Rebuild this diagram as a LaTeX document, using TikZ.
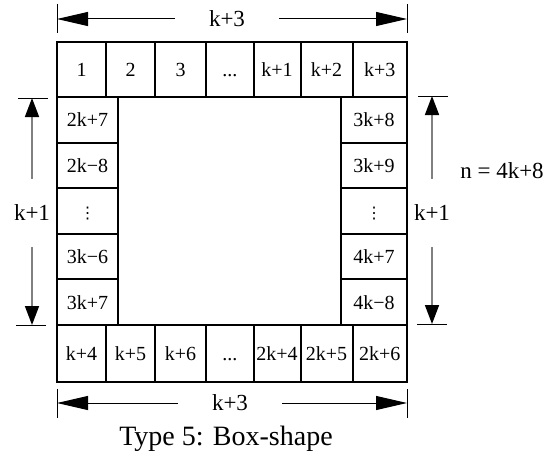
\documentclass[tikz,border=0pt]{standalone}
\usepackage{fontspec}
\setmainfont{Liberation Serif}
\newfontfamily\dotsfont{DejaVu Sans}
\usepackage{tikz}
\usetikzlibrary{arrows.meta}
\usetikzlibrary{positioning}

\newcommand{\coldots}{{\dotsfont\fontsize{8}{8}\selectfont ⋮}}

\tikzset{
    cell/.style={draw, line width=1pt, outer sep=0pt, inner sep=0pt,
        text height=7pt, text depth=0pt,
        minimum height=27.5pt, font=\fontsize{10}{11}\selectfont},
    sidecell/.style={cell, minimum height=22.8pt},
    dimlabel/.style={inner sep=0pt, font=\fontsize{11.5}{13}\selectfont},
    harrow/.style={line width=0.5pt, shorten <=17pt,
        -{Triangle[length=15.5pt,width=7pt]}},
    varrow/.style={gray, line width=0.8pt, shorten <=13pt,
        -{Triangle[length=9.5pt,width=7pt,color=black,fill=black]}},
    tick/.style={line width=0.5pt}
}

\begin{document}
\begin{tikzpicture}[x=0.5pt,y=-0.5pt]
        \useasboundingbox (0,0) rectangle (555,460);

        % top row
        \node[cell, anchor=north west, minimum width=24.5pt] (t1) at (57,42) {1};
        \node[cell, right=0pt of t1, minimum width=24.5pt] (t2) {2};
        \node[cell, right=0pt of t2, minimum width=25.5pt] (t3) {3};
        \node[cell, right=0pt of t3, minimum width=23.75pt] (t4) {...};
        \node[cell, right=0pt of t4, minimum width=23.5pt] (t5) {k+1};
        \node[cell, right=0pt of t5, minimum width=26pt] (t6) {k+2};
        \node[cell, right=0pt of t6, minimum width=27.25pt] (t7) {k+3};

        % left column
        \node[sidecell, anchor=north west, minimum width=30.5pt] (l1) at (t1.south west) {2k+7};
        \node[sidecell, below=0pt of l1, minimum width=30.5pt] (l2) {2k−8};
        \node[sidecell, below=0pt of l2, minimum width=30.5pt] (l3) {\coldots};
        \node[sidecell, below=0pt of l3, minimum width=30.5pt] (l4) {3k−6};
        \node[sidecell, below=0pt of l4, minimum width=30.5pt] (l5) {3k+7};

        % right column
        \node[sidecell, anchor=north east, minimum width=33pt] (r1) at (t7.south east) {3k+8};
        \node[sidecell, below=0pt of r1, minimum width=33pt] (r2) {3k+9};
        \node[sidecell, below=0pt of r2, minimum width=33pt] (r3) {\coldots};
        \node[sidecell, below=0pt of r3, minimum width=33pt] (r4) {4k+7};
        \node[sidecell, below=0pt of r4, minimum width=33pt] (r5) {4k−8};

        % bottom row
        \node[cell, anchor=north west, minimum width=24.5pt, minimum height=28.5pt] (b1) at (l5.south west) {k+4};
        \node[cell, right=0pt of b1, minimum width=24.5pt, minimum height=28.5pt] (b2) {k+5};
        \node[cell, right=0pt of b2, minimum width=25.5pt, minimum height=28.5pt] (b3) {k+6};
        \node[cell, right=0pt of b3, minimum width=23.75pt, minimum height=28.5pt] (b4) {...};
        \node[cell, right=0pt of b4, minimum width=23.5pt, minimum height=28.5pt] (b5) {2k+4};
        \node[cell, right=0pt of b5, minimum width=26pt, minimum height=28.5pt] (b6) {2k+5};
        \node[cell, right=0pt of b6, minimum width=27.25pt, minimum height=28.5pt] (b7) {2k+6};

        % dimension marks
        \node[dimlabel] (topk) at (227,19) {k+3};
        \coordinate (topl) at (57,19);
        \coordinate (topr) at (407,19);
        \draw[harrow] (topk) -- (topl);
        \draw[harrow] (topk) -- (topr);
        \draw[tick] (57,4) -- (57,33);
        \draw[tick] (407,4) -- (407,33);

        \node[dimlabel] (botk) at (230,403) {k+3};
        \coordinate (botl) at (57,403);
        \coordinate (botr) at (407,403);
        \draw[harrow] (botk) -- (botl);
        \draw[harrow] (botk) -- (botr);
        \draw[tick] (57,389) -- (57,418);
        \draw[tick] (407,389) -- (407,418);

        \node[dimlabel] (leftk) at (32,213) {k+1};
        \coordinate (leftt) at (32,98);
        \coordinate (leftb) at (32,325);
        \draw[varrow] (leftk) -- (leftt);
        \draw[varrow] (leftk) -- (leftb);
        \draw[tick] (18,98) -- (48,98);
        \draw[tick] (16,325) -- (46,325);

        \node[dimlabel] (rightk) at (432,213) {k+1};
        \coordinate (rightt) at (432,96);
        \coordinate (rightb) at (432,324);
        \draw[varrow] (rightk) -- (rightt);
        \draw[varrow] (rightk) -- (rightb);
        \draw[tick] (418,96) -- (448,96);
        \draw[tick] (417,324) -- (447,324);

        \node[dimlabel] (total) at (502,171) {n = 4k+8};
        \node[font=\fontsize{14}{16}\selectfont, anchor=base] (caption) at (226,445) {Type 5: Box-shape};
\end{tikzpicture}
\end{document}
